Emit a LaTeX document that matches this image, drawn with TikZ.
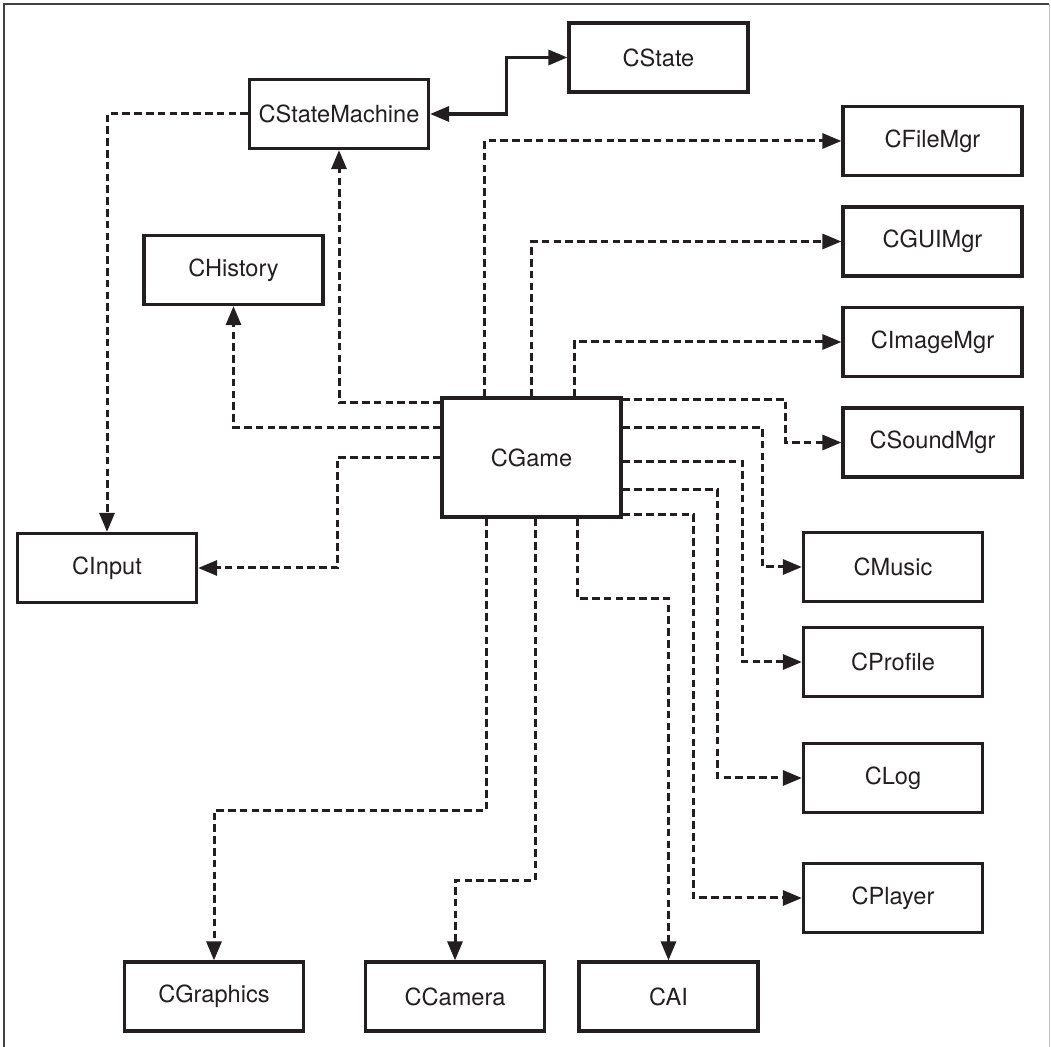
\documentclass[tikz,border=0pt]{standalone}
\usepackage{fontspec}
\setmainfont{TeX Gyre Heros}
\usepackage{tikz}
\usetikzlibrary{calc,arrows.meta}
\definecolor{ink}{RGB}{35,31,32}

\begin{document}
\begin{tikzpicture}[x=0.5pt,y=-0.5pt,
    kelas/.style={draw=ink,line width=1.6pt,minimum width=89.5pt,minimum height=34.5pt,inner sep=0pt,font=\fontsize{11.8}{14}\selectfont,text=ink},
    dep/.style={draw=ink,line width=1.5pt,dash pattern=on 3.8pt off 2.1pt,-{Triangle[length=9.5pt,width=7.5pt]}},
    assoc/.style={draw=ink,line width=1.6pt,{Triangle[length=9.5pt,width=7.5pt]}-{Triangle[length=9.5pt,width=7.5pt]}}]

    % Bingkai dan batas gambar
    \useasboundingbox (0,0) rectangle (1051,1047);
    \draw[ink!85,line width=1pt] (4,1047)--(4,4)--(1049,4);
    \draw[black!25,line width=0.5pt] (1049.5,4)--(1049.5,1047);

    % Kelas-kelas
    \node[kelas] (state) at (658.5,57.5) {CState};
    \node[kelas] (machine) at (339,114) {CStateMachine};
    \node[kelas] (history) at (233.5,270) {CHistory};
    \node[kelas] (input) at (107,568) {CInput};
    \node[kelas,minimum height=59.5pt] (game) at (531.5,457.5) {CGame};
    \node[kelas] (filemgr) at (932.5,141) {CFileMgr};
    \node[kelas] (guimgr) at (932.5,241.5) {CGUIMgr};
    \node[kelas] (imagemgr) at (932.5,342) {CImageMgr};
    \node[kelas] (soundmgr) at (932.5,442.5) {CSoundMgr};
    \node[kelas] (music) at (893,567) {CMusic};
    \node[kelas] (profile) at (893,662) {CProfile};
    \node[kelas] (log) at (893,778) {CLog};
    \node[kelas] (player) at (893,898) {CPlayer};
    \node[kelas] (graphics) at (214,996.5) {CGraphics};
    \node[kelas] (camera) at (455,996.5) {CCamera};
    \node[kelas] (ai) at (668.5,996.5) {CAI};

    % Hubungan dua arah CStateMachine dan CState
    \draw[assoc] (machine.east)--++(76,0) |- (state.west);

    % CStateMachine ke CInput
    \draw[dep] (machine.west) -| (input.north);

    % Dari sisi kiri CGame
    \draw[dep] ($(game.north west)+(0,6)$) -| (machine.south);
    \draw[dep] ($(game.north west)+(0,31)$) -| (history.south);
    \draw[dep] (game.west)--++(-103,0) |- (input.east);

    % Dari sisi atas CGame
    \draw[dep] ($(game.north west)+(44,0)$) |- (filemgr.west);
    \draw[dep] (game.north) |- (guimgr.west);
    \draw[dep] ($(game.north east)+(-48,0)$) |- (imagemgr.west);

    % Dari sisi kanan CGame
    \draw[dep] ($(game.north east)+(0,3)$)--++(163,0) |- (soundmgr.west);
    \draw[dep] ($(game.north east)+(0,31)$)--++(140,0) |- (music.west);
    \draw[dep] ($(game.east)+(0,4)$)--++(120,0) |- (profile.west);
    \draw[dep] ($(game.south east)+(0,-29)$)--++(95,0) |- (log.west);
    \draw[dep] ($(game.south east)+(0,-4)$)--++(71,0) |- (player.west);

    % Dari sisi bawah CGame
    \draw[dep] ($(game.south east)+(-45,0)$)--++(0,80) -| (ai.north);
    \draw[dep] ($(game.south)+(3.5,0)$)--++(0,362) -| (camera.north);
    \draw[dep] ($(game.south west)+(46,0)$)--++(0,292) -| (graphics.north);

\end{tikzpicture}
\end{document}
